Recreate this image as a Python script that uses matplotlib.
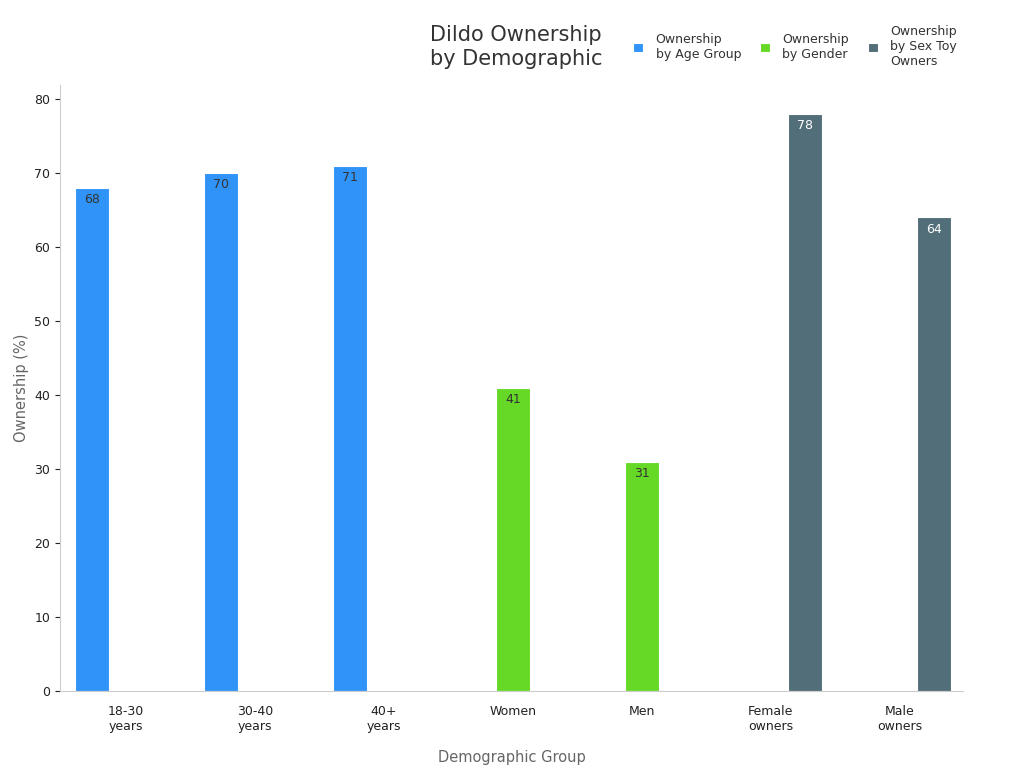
import matplotlib.pyplot as plt
import numpy as np

categories = ['18-30\nyears', '30-40\nyears', '40+\nyears', 'Women', 'Men', 'Female\nowners', 'Male\nowners']
age_group = [68, 70, 71, None, None, None, None]
gender = [None, None, None, 41, 31, None, None]
toy_owners = [None, None, None, None, None, 78, 64]

series = [
    ('Ownership\nby Age Group', age_group, '#2f93f7', '#333333'),
    ('Ownership\nby Gender', gender, '#66d926', '#333333'),
    ('Ownership\nby Sex Toy\nOwners', toy_owners, '#526e79', 'white'),
]

fig = plt.figure(figsize=(10.24, 7.68), dpi=100)
ax = fig.add_axes([60/1024, 1-691/768, 903/1024, 606/768])

x = np.arange(len(categories))
w = 0.265
for i, (name, vals, color, tcolor) in enumerate(series):
    xs = [xi + (i - 1) * w for xi, v in zip(x, vals) if v is not None]
    vs = [v for v in vals if v is not None]
    bars = ax.bar(xs, vs, width=w, color=color, edgecolor='white', linewidth=0.8, label=name)
    for b, v in zip(bars, vs):
        ax.text(b.get_x() + b.get_width()/2, v - 0.7, str(v), ha='center', va='top',
                fontsize=9, color=tcolor)

ax.set_xlim(-0.51, 6.49)
ax.set_ylim(0, 81.9)
ax.set_xticks(x)
ax.set_xticklabels(categories, fontsize=9, color='#222222')
ax.set_yticks(range(0, 81, 10))
ax.tick_params(axis='y', labelsize=9, colors='#222222')
ax.tick_params(axis='x', length=0, pad=10)
for s in ['top', 'right']:
    ax.spines[s].set_visible(False)
for s in ['left', 'bottom']:
    ax.spines[s].set_color('#cccccc')
ax.set_xlabel('Demographic Group', fontsize=10.5, color='#666666', labelpad=12)
ax.set_ylabel('Ownership (%)', fontsize=10.5, color='#666666')

fig.text(430/1024, 1-47/768, 'Dildo Ownership\nby Demographic', fontsize=15, color='#333333',
         ha='left', va='center', linespacing=1.3)
fig.legend(loc='upper left', bbox_to_anchor=(622/1024, 1-14/768), ncol=3, frameon=False,
           fontsize=9, handlelength=0.8, handleheight=0.8, columnspacing=1.5,
           handletextpad=1.0, labelcolor='#333333')

fig.savefig('out.png', dpi=100)
